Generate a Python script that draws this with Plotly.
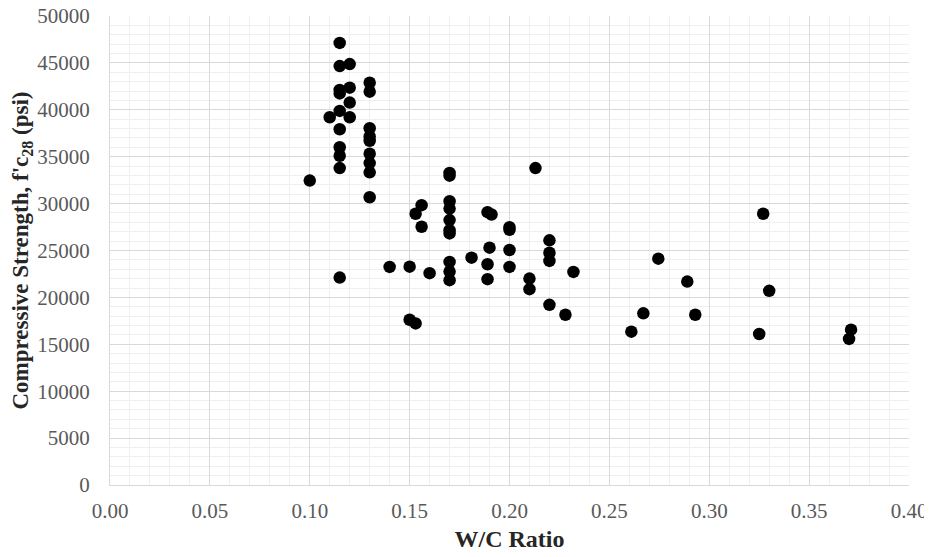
import plotly.graph_objects as go

wc_ratio = [
    0.115, 0.115, 0.115, 0.115, 0.115, 0.115, 0.115, 0.115, 0.115, 0.115,
    0.120, 0.120, 0.120, 0.120,
    0.110,
    0.130, 0.130, 0.130, 0.130, 0.130, 0.130, 0.130, 0.130, 0.130,
    0.100,
    0.170, 0.170, 0.170, 0.170, 0.170, 0.170, 0.170, 0.170, 0.170, 0.170,
    0.156, 0.156, 0.153,
    0.189, 0.191, 0.190, 0.189, 0.189,
    0.200, 0.200, 0.200, 0.200,
    0.213,
    0.220, 0.220, 0.220, 0.220,
    0.181, 0.140, 0.150, 0.160,
    0.210, 0.210, 0.232, 0.228,
    0.150, 0.153,
    0.2745, 0.289, 0.267, 0.293, 0.261,
    0.327, 0.330, 0.325, 0.371, 0.370,
]
strength_psi = [
    47130, 44660, 42110, 41750, 39880, 37930, 36020, 35100, 33790, 22110,
    44870, 42360, 40770, 39210,
    39210,
    42890, 41930, 38040, 37150, 36690, 35310, 34320, 33330, 30680,
    32450,
    33260, 32980, 30250, 29470, 28240, 27170, 26820, 23780, 22750, 21840,
    29830, 27530, 28920,
    29090, 28840, 25300, 23530, 21940,
    27490, 27210, 25050, 23250,
    33790,
    26080, 24760, 23890, 19210,
    24240, 23250, 23280, 22580,
    22010, 20880, 22720, 18150,
    17620, 17230,
    24130, 21690, 18300, 18150, 16350,
    28920, 20700, 16100, 16560, 15570,
]

x_tickvals = [0.0, 0.05, 0.10, 0.15, 0.20, 0.25, 0.30, 0.35, 0.40]
x_ticktext = ["0.00", "0.05", "0.10", "0.15", "0.20", "0.25", "0.30", "0.35", "0.40"]
y_tickvals = [0, 5000, 10000, 15000, 20000, 25000, 30000, 35000, 40000, 45000, 50000]

SERIF = "Liberation Serif, Times New Roman, serif"

fig = go.Figure()
fig.add_trace(go.Scatter(
    x=wc_ratio, y=strength_psi, mode="markers",
    marker=dict(color="black", size=12.5, line=dict(width=0)),
    showlegend=False,
))

fig.update_layout(
    width=932, height=557,
    margin=dict(l=102, r=31, t=8, b=80),
    paper_bgcolor="white", plot_bgcolor="white",
    font=dict(family=SERIF, size=21, color="#595959"),
)
fig.update_xaxes(
    range=[0, 0.40], tickvals=x_tickvals, ticktext=x_ticktext,
    showgrid=True, gridcolor="#d9d9d9", gridwidth=1.3,
    minor=dict(dtick=0.01, showgrid=True, gridcolor="#efefef", gridwidth=1),
    showline=True, linecolor="#d9d9d9", linewidth=1.3, zeroline=False,
    ticks="", ticklabelstandoff=7, ticklabeloverflow="allow",
    tickfont=dict(family=SERIF, size=21, color="#595959"),
    title=dict(text="<b>W/C Ratio</b>", standoff=7,
               font=dict(family=SERIF, size=24, color="#262626")),
    automargin=False,
)
fig.update_yaxes(
    range=[0, 50000], tickvals=y_tickvals, tickformat="d",
    showgrid=True, gridcolor="#d9d9d9", gridwidth=1.3,
    minor=dict(dtick=1000, showgrid=True, gridcolor="#efefef", gridwidth=1),
    showline=True, linecolor="#d9d9d9", linewidth=1.3, zeroline=False,
    ticks="", ticklabelstandoff=15, ticklabeloverflow="allow",
    tickfont=dict(family=SERIF, size=21, color="#595959"),
    title=dict(text="<b>Compressive Strength, f'c<sub>28</sub> (psi)</b>", standoff=3,
               font=dict(family=SERIF, size=23, color="#262626")),
    automargin=False,
)

fig.write_html("out.html")
